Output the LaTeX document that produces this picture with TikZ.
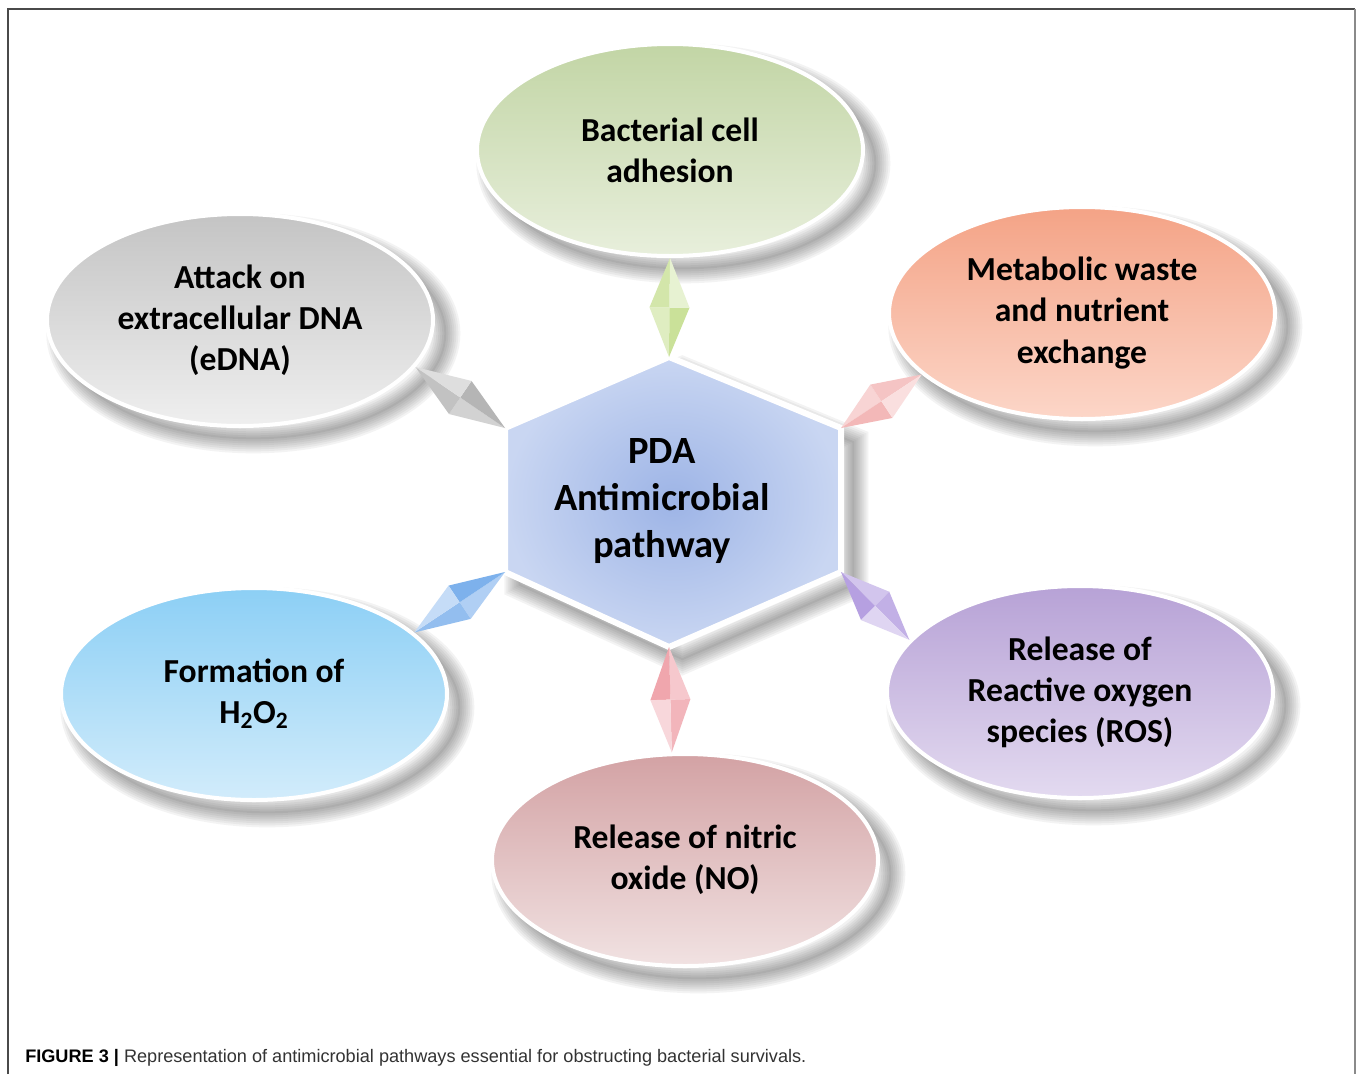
\documentclass[tikz,border=0pt]{standalone}
\usepackage{fontspec}
\setmainfont{Carlito}
\newfontfamily\capfont{Liberation Sans}
\usetikzlibrary{shapes.geometric,calc}

% fills of the six outcome bubbles (top / bottom of the gradient)
\definecolor{grnT}{HTML}{C2D5A5}\definecolor{grnB}{HTML}{E8EFDC}
\definecolor{grayT}{HTML}{C4C4C4}\definecolor{grayB}{HTML}{EFEFEF}
\definecolor{orgT}{HTML}{F4A386}\definecolor{orgB}{HTML}{FCD6C8}
\definecolor{bluT}{HTML}{8CCFF5}\definecolor{bluB}{HTML}{D2ECFB}
\definecolor{purT}{HTML}{B7A2D6}\definecolor{purB}{HTML}{E3DAF0}
\definecolor{pnkT}{HTML}{D3A2A4}\definecolor{pnkB}{HTML}{F1E2E2}
% gem connectors
\definecolor{gemGrn}{HTML}{C4DE8E}
\definecolor{gemGray}{HTML}{ADADAD}
\definecolor{gemSalmon}{HTML}{F2B0B0}
\definecolor{gemBlue}{HTML}{6FA8EA}
\definecolor{gemPur}{HTML}{AE96DE}
\definecolor{gemRose}{HTML}{EE9CA4}
% hub
\definecolor{hubIn}{HTML}{9DB4E6}
\definecolor{hubOut}{HTML}{C9D6F2}
\definecolor{frameDark}{HTML}{4A4A4A}
\definecolor{frameLight}{HTML}{8A8A8A}
\definecolor{capGray}{HTML}{333333}
\definecolor{shadowInk}{HTML}{202020}

% four-faceted diamond between two anchors
\newcommand\gemlink[3]{%
  \coordinate (gm) at ($(#1)!0.5!(#2)$);
  \coordinate (gl) at ($(gm)!15pt!90:(#2)$);
  \coordinate (gr) at ($(gm)!15pt!-90:(#2)$);
  \fill[#3!55!white] (#1) -- (gl) -- (gm) -- cycle;
  \fill[#3!90!white] (#1) -- (gr) -- (gm) -- cycle;
  \fill[#3!75!white] (#2) -- (gl) -- (gm) -- cycle;
  \fill[#3!40!white] (#2) -- (gr) -- (gm) -- cycle;
}

\tikzset{
  % one ring of a soft drop shadow, offset to the lower right
  shadowring/.style={preaction={transform canvas={shift={(10pt,-10pt)}},
    draw=shadowInk, draw opacity=0.05, line width=#1}},
  softshadow/.style={
    preaction={transform canvas={shift={(10pt,-10pt)}},
      fill=shadowInk, fill opacity=0.06},
    shadowring=21pt, shadowring=18pt, shadowring=15pt, shadowring=12pt,
    shadowring=9pt, shadowring=6pt, shadowring=3pt},
  bubble/.style={ellipse, minimum width=289.5pt, minimum height=159pt,
    inner sep=0pt, align=center, text=black,
    font=\fontsize{25.2}{30.8}\selectfont\bfseries,
    softshadow, draw=white, line width=3pt},
  hubshape/.style={softshadow, inner color=hubIn, outer color=hubOut,
    draw=white, line width=4.5pt, line join=miter},
  hubtext/.style={align=center, inner sep=0pt, text=black,
    font=\fontsize{28.9}{35.2}\selectfont\bfseries},
}

\begin{document}
\begin{tikzpicture}[x=0.75pt,y=-0.75pt]
\useasboundingbox (0,0) rectangle (1358,1074);
\fill[white] (0,0) rectangle (1358,1074);

% page frame
\draw[frameDark, line width=1.4pt] (8,1074) -- (8,9) -- (1355,9);
\draw[frameLight, line width=2pt] (1355,9) -- (1355,1074);

% central hexagon
\coordinate (hT)  at (669,357);
\coordinate (hUR) at (841,428);
\coordinate (hLR) at (841,572);
\coordinate (hB)  at (669,647);
\coordinate (hLL) at (505,572);
\coordinate (hUL) at (505,428);
\path[hubshape] (hT) -- (hUR) -- (hLR) -- (hB) -- (hLL) -- (hUL) -- cycle;
\node[hubtext] (pda) at (662,501) {PDA\\Antimicrobial\\pathway};

% outcome bubbles
\node[bubble, top color=grnT, bottom color=grnB] (adh) at (670,150)
  {Bacterial cell\\adhesion};
\node[bubble, top color=grayT, bottom color=grayB] (edna) at (240,320)
  {Attack on\\extracellular DNA\\(eDNA)};
\node[bubble, top color=orgT, bottom color=orgB] (waste) at (1082,313)
  {Metabolic waste\\and nutrient\\exchange};
\node[bubble, top color=bluT, bottom color=bluB] (hoo) at (254,694)
  {Formation of\\H\textsubscript{2}O\textsubscript{2}};
\node[bubble, top color=purT, bottom color=purB] (ros) at (1080,692)
  {Release of\\Reactive oxygen\\species (ROS)};
\node[bubble, top color=pnkT, bottom color=pnkB] (no) at (685,860)
  {Release of nitric\\oxide (NO)};

% gem connectors from the hub to each bubble
\gemlink{hT}{adh.-90}{gemGrn}
\gemlink{hUL}{edna.-15}{gemGray}
\gemlink{hUR}{waste.201}{gemSalmon}
\gemlink{hLL}{hoo.21}{gemBlue}
\gemlink{hLR}{ros.163}{gemPur}
\gemlink{hB}{no.97}{gemRose}

% caption
\node[anchor=base west, inner sep=0pt, font=\capfont\fontsize{13.6}{16}\selectfont,
  text=capGray] (cap) at (25,1062)
  {\textbf{\color{black}FIGURE 3 |} Representation of antimicrobial pathways essential for obstructing bacterial survivals.};
\end{tikzpicture}
\end{document}
